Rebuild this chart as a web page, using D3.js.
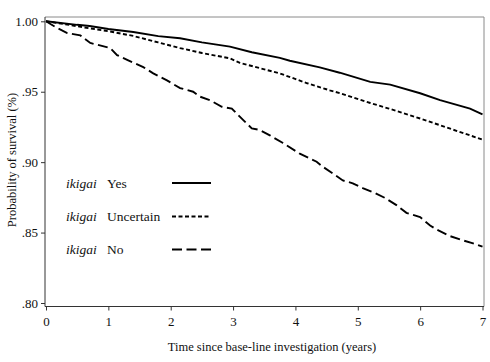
<!DOCTYPE html>
<html>
<head>
<meta charset="utf-8">
<script src="https://cdn.jsdelivr.net/npm/d3@7"></script>
<style>
  body { margin: 0; background: #fff; }
  text { font-family: "Liberation Serif", "Times New Roman", serif; fill: #111; }
</style>
</head>
<body>
<div id="chart-container"></div>
<script>
// values
const yesT = [0, 0.5, 0.7, 1, 1.4, 1.8, 2.15, 2.5, 2.95, 3.3, 3.75, 3.91, 4.39, 4.71, 5.2, 5.52, 6.0, 6.32, 6.8, 7];
const yesS = [1.0, 0.9975, 0.9967, 0.9945, 0.9924, 0.9895, 0.988, 0.985, 0.982, 0.978, 0.974, 0.972, 0.9673, 0.9635, 0.957, 0.955, 0.9489, 0.944, 0.938, 0.934];

const uncT = [0, 0.3, 0.7, 1.0, 1.4, 1.8, 2.15, 2.5, 2.95, 3.11, 3.75, 4.19, 4.55, 4.71, 5.2, 5.5, 6.0, 6.4, 6.8, 7];
const uncS = [1.0, 0.998, 0.995, 0.993, 0.9896, 0.985, 0.981, 0.9775, 0.9737, 0.9705, 0.963, 0.956, 0.951, 0.949, 0.942, 0.938, 0.931, 0.925, 0.919, 0.916];

const noT = [0, 0.15, 0.34, 0.55, 0.71, 1.03, 1.14, 1.31, 1.56, 1.72, 1.94, 2.15, 2.36, 2.47, 2.63, 2.82, 2.98, 3.16, 3.3, 3.43, 3.59, 3.8, 4.07, 4.34, 4.44, 4.6, 4.76, 4.92, 5.08, 5.28, 5.44, 5.62, 5.78, 6.0, 6.16, 6.27, 6.48, 6.67, 6.85, 7];
const noS = [1.0, 0.996, 0.9917, 0.990, 0.9846, 0.981, 0.976, 0.9725, 0.9675, 0.963, 0.958, 0.9526, 0.950, 0.9465, 0.944, 0.9393, 0.938, 0.930, 0.924, 0.9228, 0.919, 0.9136, 0.906, 0.9003, 0.8967, 0.892, 0.887, 0.885, 0.8816, 0.878, 0.8745, 0.8695, 0.864, 0.861, 0.855, 0.852, 0.8475, 0.8447, 0.8423, 0.840];

const xTicks = [0, 1, 2, 3, 4, 5, 6, 7];
const yTicks = [0.80, 0.85, 0.90, 0.95, 1.00];
const groups = ["Yes", "Uncertain", "No"];

const W = 490, H = 362;
const box = { left: 45, top: 17, right: 484, bottom: 306.5 };

const xScale = d3.scaleLinear().domain([0, 7]).range([46, 482.5]);
const yScale = d3.scaleLinear().domain([0.8, 1.0]).range([303, 21.3]);

const svg = d3.select("#chart-container")
  .append("svg")
  .attr("width", W)
  .attr("height", H);

// frame: top and right are lighter
svg.append("line")
  .attr("x1", box.left).attr("x2", box.right)
  .attr("y1", box.top).attr("y2", box.top)
  .attr("stroke", "#8a8a8a").attr("stroke-width", 1);
svg.append("line")
  .attr("x1", box.right).attr("x2", box.right)
  .attr("y1", box.top).attr("y2", box.bottom)
  .attr("stroke", "#8a8a8a").attr("stroke-width", 1);

// x-axis
const xAxis = d3.axisBottom(xScale)
  .tickValues(xTicks)
  .tickFormat(d3.format("d"))
  .tickSizeInner(4)
  .tickSizeOuter(0)
  .tickPadding(6);
svg.append("g")
  .attr("transform", `translate(0, ${box.bottom})`)
  .call(xAxis)
  .call((g) => g.select(".domain").attr("d", `M${box.left},0H${box.right}`).attr("stroke", "#333"))
  .call((g) => g.selectAll(".tick line").attr("stroke", "#333"))
  .selectAll(".tick text")
  .style("font-size", "13px")
  .style("font-family", "'Liberation Serif', serif")
  .attr("fill", "#111");

// y-axis
const yAxis = d3.axisLeft(yScale)
  .tickValues(yTicks)
  .tickFormat((d) => d === 1 ? "1.00" : d3.format(".2f")(d).replace(/^0/, ""))
  .tickSizeInner(4)
  .tickSizeOuter(0)
  .tickPadding(3);
svg.append("g")
  .attr("transform", `translate(${box.left}, 0)`)
  .call(yAxis)
  .call((g) => g.select(".domain").attr("d", `M0,${box.top}V${box.bottom}`).attr("stroke", "#333"))
  .call((g) => g.selectAll(".tick line").attr("stroke", "#333"))
  .selectAll(".tick text")
  .style("font-size", "13px")
  .style("font-family", "'Liberation Serif', serif")
  .attr("fill", "#111");

// survival curves
const series = [
  { name: "Yes", t: yesT, s: yesS, dash: null, width: 1.9 },
  { name: "Uncertain", t: uncT, s: uncS, dash: "4,2.5", width: 1.9 },
  { name: "No", t: noT, s: noS, dash: "10,4.5", width: 1.9 }
];

const line = d3.line()
  .x((d) => xScale(d[0]))
  .y((d) => yScale(d[1]));

series.forEach((ser) => {
  svg.append("path")
    .datum(ser.t.map((t, i) => [t, ser.s[i]]))
    .attr("fill", "none")
    .attr("stroke", "#000")
    .attr("stroke-width", ser.width)
    .attr("stroke-dasharray", ser.dash)
    .attr("d", line);
});

// legend
const legend = svg.append("g");
const legY = [183, 216.5, 249.5];
series.forEach((ser, i) => {
  const row = legend.append("g").attr("transform", `translate(0, ${legY[i]})`);
  row.append("text")
    .attr("x", 66)
    .attr("y", 4.5)
    .style("font-size", "13.5px")
    .style("font-style", "italic")
    .text("ikigai");
  row.append("text")
    .attr("x", 107)
    .attr("y", 4.5)
    .style("font-size", "13.5px")
    .text(groups[i]);
  row.append("line")
    .attr("x1", 172).attr("x2", 211)
    .attr("y1", 0).attr("y2", 0)
    .attr("stroke", "#000")
    .attr("stroke-width", 1.9)
    .attr("stroke-dasharray", ser.dash);
});

// y-axis label
svg.append("text")
  .attr("transform", "rotate(-90)")
  .attr("x", -160)
  .attr("y", 16)
  .style("text-anchor", "middle")
  .style("font-size", "12.5px")
  .text("Probability of survival (%)");

// x-axis label
svg.append("text")
  .attr("x", 272)
  .attr("y", 351)
  .style("text-anchor", "middle")
  .style("font-size", "12.5px")
  .text("Time since base-line investigation (years)");
</script>
</body>
</html>
